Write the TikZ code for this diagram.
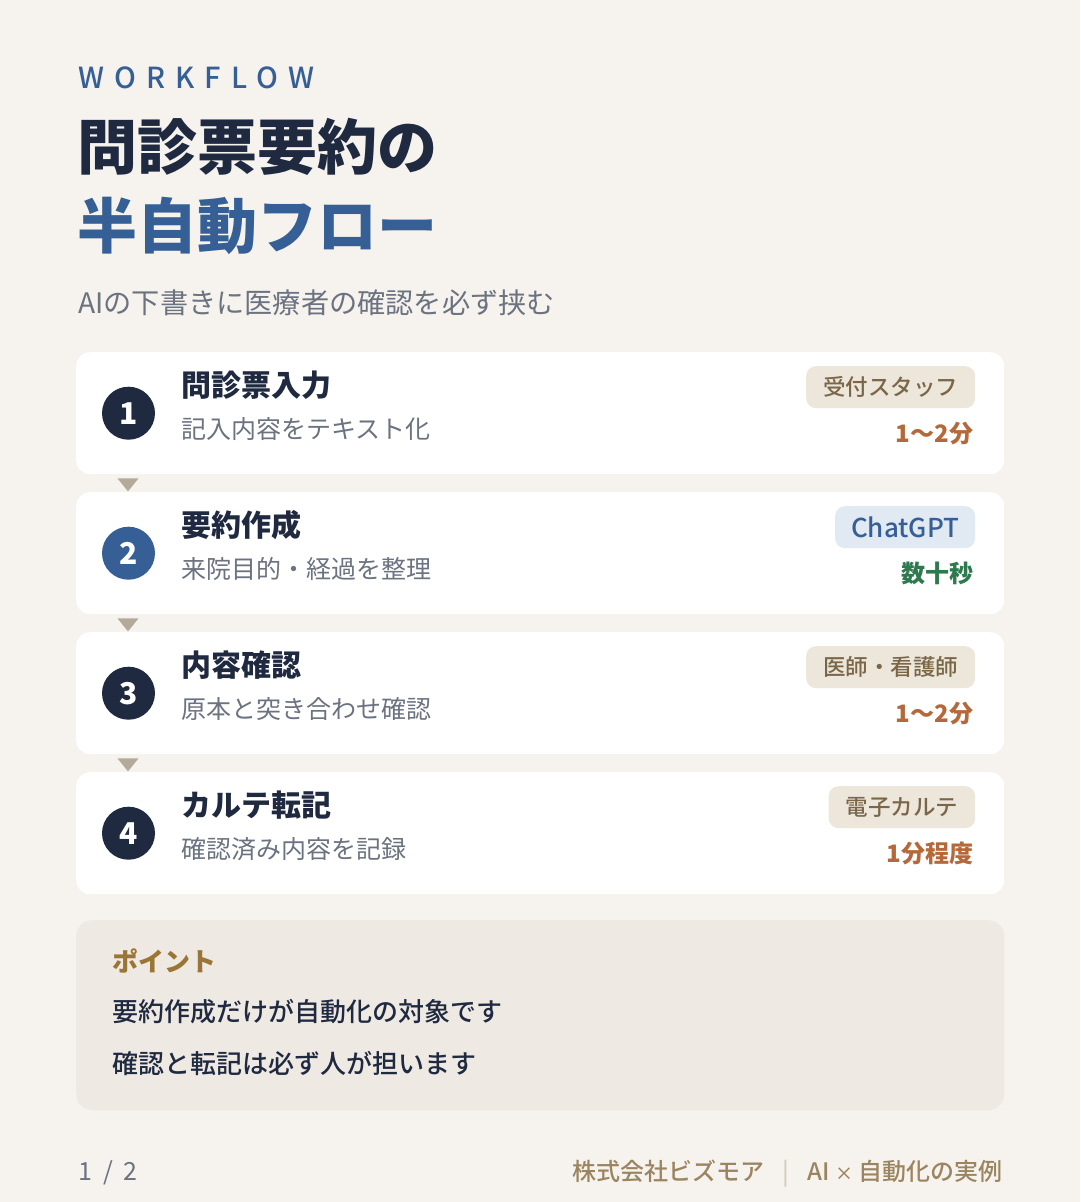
\documentclass[tikz,border=0pt]{standalone}
\usepackage{fontspec}
\setmainfont{Noto Sans CJK JP}
\newfontfamily\medfont{Noto Sans CJK JP Medium}
\usetikzlibrary{calc}
\definecolor{bgc}{HTML}{F6F3EE}
\definecolor{navy}{HTML}{1F2A40}
\definecolor{bluec}{HTML}{365F96}
\definecolor{greyc}{HTML}{6B7280}
\definecolor{tagbg}{HTML}{EDE6DA}
\definecolor{tagtxt}{HTML}{7A6748}
\definecolor{bluetagbg}{HTML}{E1E9F3}
\definecolor{orangec}{HTML}{B5683A}
\definecolor{greenc}{HTML}{2E7A4E}
\definecolor{pointbg}{HTML}{EEE9E2}
\definecolor{pointc}{HTML}{9A7535}
\definecolor{footc}{HTML}{9A8560}
\definecolor{sepc}{HTML}{D4CBBB}
\definecolor{tric}{HTML}{B3AA9A}
\newcommand\fsz[1]{\fontsize{#1}{#1}\selectfont}
\begin{document}
\begin{tikzpicture}[x=1pt,y=-1pt,
  txt/.style={inner sep=0pt, anchor=base west},
  card/.style={fill=white, rounded corners=14pt, minimum width=928pt, minimum height=122pt, inner sep=0pt, anchor=north west},
  numdot/.style={circle, minimum size=53pt, inner sep=0pt, text=white, font=\fsz{30}\bfseries},
  cardtitle/.style={txt, text=navy, font=\fsz{30}\bfseries},
  cardsub/.style={txt, text=greyc, font=\fsz{25}},
  tagbeige/.style={fill=tagbg, text=tagtxt, rounded corners=10pt, minimum height=42pt, inner xsep=17pt, inner ysep=0pt, anchor=north east, font=\fsz{22.5}\medfont},
  tagblue/.style={fill=bluetagbg, text=bluec, rounded corners=10pt, minimum height=42pt, inner xsep=16pt, inner ysep=0pt, anchor=north east, font=\fsz{26}\medfont},
  timetxt/.style={inner sep=0pt, anchor=base east, font=\fsz{24}\bfseries},
  tri/.style={fill=tric}
]
\useasboundingbox (0,0) rectangle (1080,1202);
\fill[bgc] (0,0) rectangle (1080,1202);

% header
\node[txt, text=bluec, font={\fsz{29}\medfont\addfontfeature{LetterSpace=35}}] (kicker) at (78,88) {WORKFLOW};
\node[txt, text=navy, font=\fsz{60}\bfseries] (title1) at (77,169) {問診票要約の};
\node[txt, text=bluec, font=\fsz{60}\bfseries] (title2) at (77,248) {半自動フロー};
\node[txt, text=greyc, font=\fsz{28.2}] (subtitle) at (78,313) {AIの下書きに医療者の確認を必ず挟む};

% steps
\foreach \i/\top/\ttl/\sub/\tagst/\tagtx/\tmcol/\tmtx/\numcol in {
  1/352/問診票入力/記入内容をテキスト化/tagbeige/受付スタッフ/orangec/1〜2分/navy,
  2/492/要約作成/来院目的・経過を整理/tagblue/ChatGPT/greenc/数十秒/bluec,
  3/632/内容確認/原本と突き合わせ確認/tagbeige/医師・看護師/orangec/1〜2分/navy,
  4/772/カルテ転記/確認済み内容を記録/tagbeige/電子カルテ/orangec/1分程度/navy}
{
  \node[card] (card\i) at (76,\top) {};
  \node[numdot, fill=\numcol] (num\i) at ($(card\i.west)+(52.5,0)$) {\i};
  \node[cardtitle] (ttl\i) at ($(card\i.north west)+(105,44)$) {\ttl};
  \node[cardsub] (sub\i) at ($(card\i.north west)+(105,86)$) {\sub};
  \node[\tagst] (tag\i) at ($(card\i.north east)+(-29,14)$) {\tagtx};
  \node[timetxt, text=\tmcol] (time\i) at ($(card\i.north east)+(-31,90)$) {\tmtx};
}
\foreach \i in {1,2,3}{
  \fill[tri] ($(card\i.south west)+(41.5,4)$) -- ++(21,0) -- ++(-10.5,13) -- cycle;
}

% point box
\node[fill=pointbg, rounded corners=16pt, minimum width=928pt, minimum height=190pt, inner sep=0pt, anchor=north west] (point) at (76,920) {};
\node[txt, text=pointc, font=\fsz{26}\bfseries] (pointhead) at ($(point.north west)+(36,51)$) {ポイント};
\node[txt, text=navy, font=\fsz{26}\medfont] (point1) at ($(point.north west)+(36,101)$) {要約作成だけが自動化の対象です};
\node[txt, text=navy, font=\fsz{26}\medfont] (point2) at ($(point.north west)+(36,153)$) {確認と転記は必ず人が担います};

% footer
\node[txt, text=greyc, font=\fsz{25}] (page) at (78,1180) {1\hspace{11pt}/\hspace{11pt}2};
\node[inner sep=0pt, anchor=base east, text=footc, font=\fsz{24}\medfont] (credit) at (1003,1180) {株式会社ビズモア\hspace{18pt}{\color{sepc}|}\hspace{18pt}AI {\fsz{18}×} 自動化の実例};
\end{tikzpicture}
\end{document}
